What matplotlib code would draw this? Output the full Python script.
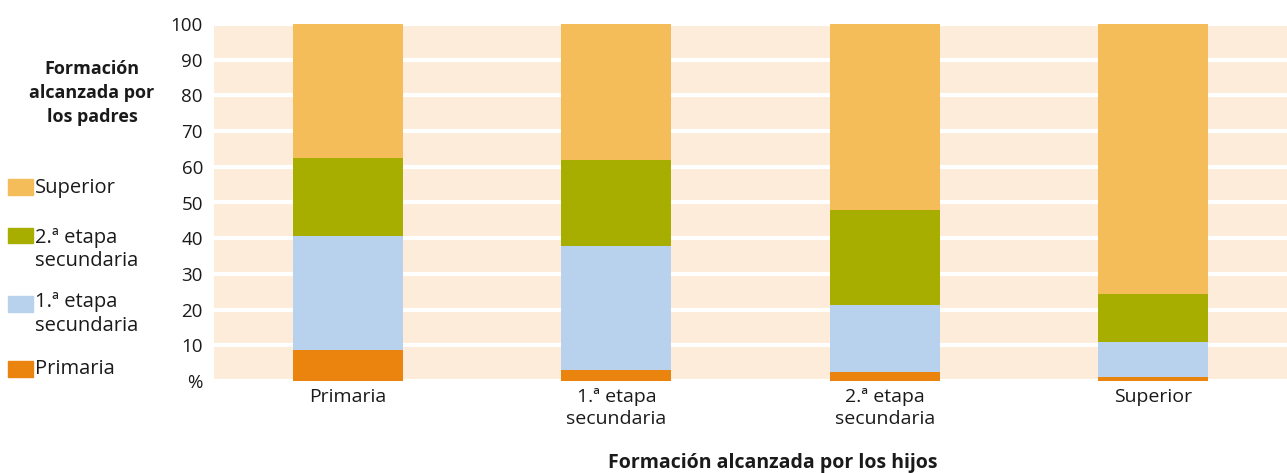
import matplotlib
matplotlib.use("Agg")
import matplotlib.pyplot as plt
from matplotlib.patches import Rectangle
import numpy as np

categories = ["Primaria", "1.ª etapa\nsecundaria", "2.ª etapa\nsecundaria", "Superior"]
series_names = ["Primaria", "1.ª etapa\nsecundaria", "2.ª etapa\nsecundaria", "Superior"]
primaria = [8.7, 3.1, 2.5, 1.1]
etapa1 = [31.9, 34.7, 18.8, 9.8]
etapa2 = [21.9, 24.1, 26.6, 13.5]
superior = [37.5, 38.1, 52.1, 75.6]
colors = ["#EB840F", "#B8D2EE", "#A8AE00", "#F5BC5A"]
yticks = [0, 10, 20, 30, 40, 50, 60, 70, 80, 90, 100]
ytick_labels = ["%", "10", "20", "30", "40", "50", "60", "70", "80", "90", "100"]

plt.rcParams['font.family'] = ['Open Sans', 'DejaVu Sans']
W, H = 1287, 473
fig = plt.figure(figsize=(W/100, H/100), dpi=100)
ax = fig.add_axes([214/W, 1-381/H, (1287-214)/W, (381-24)/H])
ax.set_facecolor("#FDECD9")
x = np.arange(len(categories))
bottom = np.zeros(len(categories))
for vals, c in zip([primaria, etapa1, etapa2, superior], colors):
    ax.bar(x, vals, width=0.41, bottom=bottom, color=c, zorder=3)
    bottom += np.array(vals)
ax.set_xlim(-0.5, 3.5)
ax.set_ylim(0, 100)
ax.set_yticks(yticks)
ax.set_yticklabels(ytick_labels, fontsize=13.5, color="#1a1a1a")
ax.set_xticks(x)
ax.set_xticklabels(categories, fontsize=14, color="#1a1a1a", linespacing=1.3)
ax.tick_params(length=0, pad=8)
ax.tick_params(axis='x', pad=5)
ax.yaxis.grid(True, color="white", linewidth=3, zorder=1)
ax.set_axisbelow(True)
for s in ax.spines.values():
    s.set_visible(False)

fig.text(773/W, 1-463/H, "Formación alcanzada por los hijos", fontsize=14,
         fontweight="bold", ha="center", va="center", color="#1a1a1a")
fig.text(92/W, 1-93/H, "Formación\nalcanzada por\nlos padres", fontsize=13,
         fontweight="bold", ha="center", va="center", color="#1a1a1a", linespacing=1.45)

patch_y = [(179, 195), (228, 243), (296, 312), (361, 377)]
leg_text_y = [188, 249.5, 314, 369]
for (y0, y1), ty, name, c in zip(patch_y, leg_text_y, series_names[::-1], colors[::-1]):
    fig.patches.append(Rectangle((8/W, 1-y1/H), 25/W, (y1-y0)/H, color=c,
                                 transform=fig.transFigure, figure=fig))
    fig.text(35/W, 1-ty/H, name, fontsize=14.5, ha="left", va="center",
             color="#1a1a1a", linespacing=1.25)

fig.savefig("out.png", dpi=100)
